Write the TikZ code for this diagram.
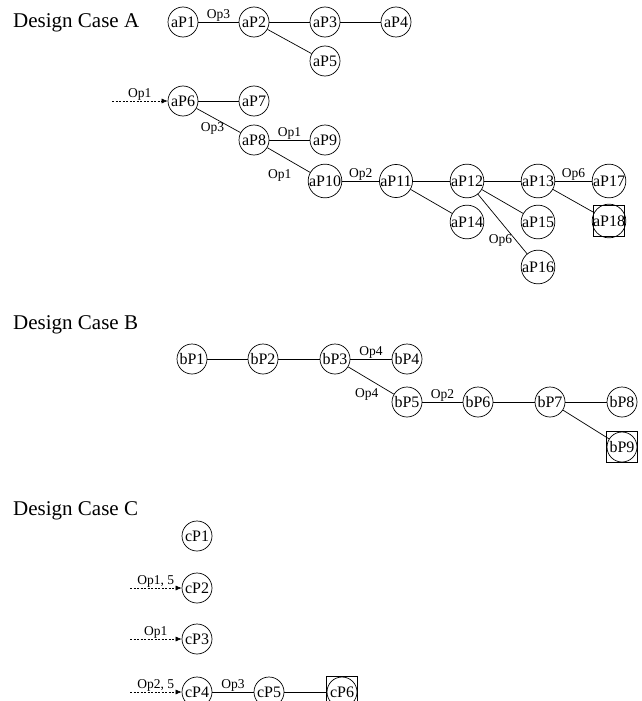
\documentclass[tikz,border=0pt]{standalone}
\usepackage{fontspec}
\setmainfont{Liberation Serif}
\usetikzlibrary{arrows.meta}
\tikzset{
  pnode/.style={circle, draw, line width=0.7pt, minimum size=30pt, inner sep=0pt,
                font=\fontsize{16}{16}\selectfont},
  endbox/.style={draw, line width=0.7pt, minimum size=31pt, inner sep=0pt},
  heading/.style={anchor=base west, inner sep=0pt, font=\fontsize{21}{21}\selectfont},
  lbl/.style={font=\fontsize{13.5}{13.5}\selectfont, inner sep=0.6pt},
  link/.style={line width=0.7pt},
  entry/.style={line width=0.6pt, dash pattern=on 2pt off 1.5pt,
                -{Latex[length=6pt,width=5pt]}}
}
\begin{document}
\begin{tikzpicture}[x=1pt, y=-1pt]
\clip (0,0) rectangle (641,701);
\useasboundingbox (0,0) rectangle (641,701);

% ---------------- Design Case A ----------------
\node[heading] (hA) at (13,28) {Design Case A};

\node[pnode] (aP1) at (183,22) {aP1};
\node[pnode] (aP2) at (254,22) {aP2};
\node[pnode] (aP3) at (325,22) {aP3};
\node[pnode] (aP4) at (396,22) {aP4};
\node[pnode] (aP5) at (325,61) {aP5};

\draw[link] (aP1) -- node[lbl, above] {Op3} (aP2);
\draw[link] (aP2) -- (aP3);
\draw[link] (aP3) -- (aP4);
\draw[link] (aP2) -- (aP5);

\node[pnode] (aP6)  at (183,101) {aP6};
\node[pnode] (aP7)  at (254,101) {aP7};
\node[pnode] (aP8)  at (254,140) {aP8};
\node[pnode] (aP9)  at (325,140) {aP9};
\node[pnode] (aP10) at (325,181) {aP10};
\node[pnode] (aP11) at (396,181) {aP11};
\node[pnode] (aP12) at (467,181) {aP12};
\node[pnode] (aP13) at (538,181) {aP13};
\node[pnode] (aP17) at (609,181) {aP17};
\node[pnode] (aP14) at (467,222) {aP14};
\node[pnode] (aP15) at (538,222) {aP15};
\node[pnode] (aP16) at (538,267) {aP16};
\node[pnode] (aP18) at (609,221) {aP18};
\node[endbox] (aP18b) at (aP18) {};

\coordinate (inA) at (112,101);
\draw[entry] (inA) -- node[lbl, above] {Op1} (aP6);

\draw[link] (aP6) -- (aP7);
\draw[link] (aP6) -- node[lbl, pos=0.5, xshift=-6pt, yshift=-8pt] {Op3} (aP8);
\draw[link] (aP8) -- node[lbl, above] {Op1} (aP9);
\draw[link] (aP8) -- node[lbl, pos=0.5, xshift=-9pt, yshift=-15pt] {Op1} (aP10);
\draw[link] (aP10) -- node[lbl, above] {Op2} (aP11);
\draw[link] (aP11) -- (aP12);
\draw[link] (aP11) -- (aP14);
\draw[link] (aP12) -- (aP13);
\draw[link] (aP12) -- (aP15);
\draw[link] (aP12) -- node[lbl, pos=0.62, xshift=-8pt, yshift=-9pt] {Op6} (aP16);
\draw[link] (aP13) -- node[lbl, above] {Op6} (aP17);
\draw[link] (aP13) -- (aP18);

% ---------------- Design Case B ----------------
\node[heading] (hB) at (13,329) {Design Case B};

\node[pnode] (bP1) at (192,359) {bP1};
\node[pnode] (bP2) at (263,359) {bP2};
\node[pnode] (bP3) at (335,359) {bP3};
\node[pnode] (bP4) at (407,359) {bP4};
\node[pnode] (bP5) at (407,402) {bP5};
\node[pnode] (bP6) at (478,402) {bP6};
\node[pnode] (bP7) at (550,402) {bP7};
\node[pnode] (bP8) at (622,402) {bP8};
\node[pnode] (bP9) at (622,447) {bP9};
\node[endbox] (bP9b) at (bP9) {};

\draw[link] (bP1) -- (bP2);
\draw[link] (bP2) -- (bP3);
\draw[link] (bP3) -- node[lbl, above] {Op4} (bP4);
\draw[link] (bP3) -- node[lbl, pos=0.45, xshift=-2pt, yshift=-15pt] {Op4} (bP5);
\draw[link] (bP5) -- node[lbl, above] {Op2} (bP6);
\draw[link] (bP6) -- (bP7);
\draw[link] (bP7) -- (bP8);
\draw[link] (bP7) -- (bP9);

% ---------------- Design Case C ----------------
\node[heading] (hC) at (13,515) {Design Case C};

\node[pnode] (cP1) at (197,536) {cP1};
\node[pnode] (cP2) at (197,588) {cP2};
\node[pnode] (cP3) at (197,639) {cP3};
\node[pnode] (cP4) at (197,692) {cP4};
\node[pnode] (cP5) at (269,692) {cP5};
\node[pnode] (cP6) at (342,692) {cP6};
\node[endbox] (cP6b) at (cP6) {};

\coordinate (inC2) at (130,588);
\coordinate (inC3) at (130,639);
\coordinate (inC4) at (130,692);
\draw[entry] (inC2) -- node[lbl, above] {Op1, 5} (cP2);
\draw[entry] (inC3) -- node[lbl, above] {Op1} (cP3);
\draw[entry] (inC4) -- node[lbl, above] {Op2, 5} (cP4);

\draw[link] (cP4) -- node[lbl, above] {Op3} (cP5);
\draw[link] (cP5) -- (cP6);
\end{tikzpicture}
\end{document}
